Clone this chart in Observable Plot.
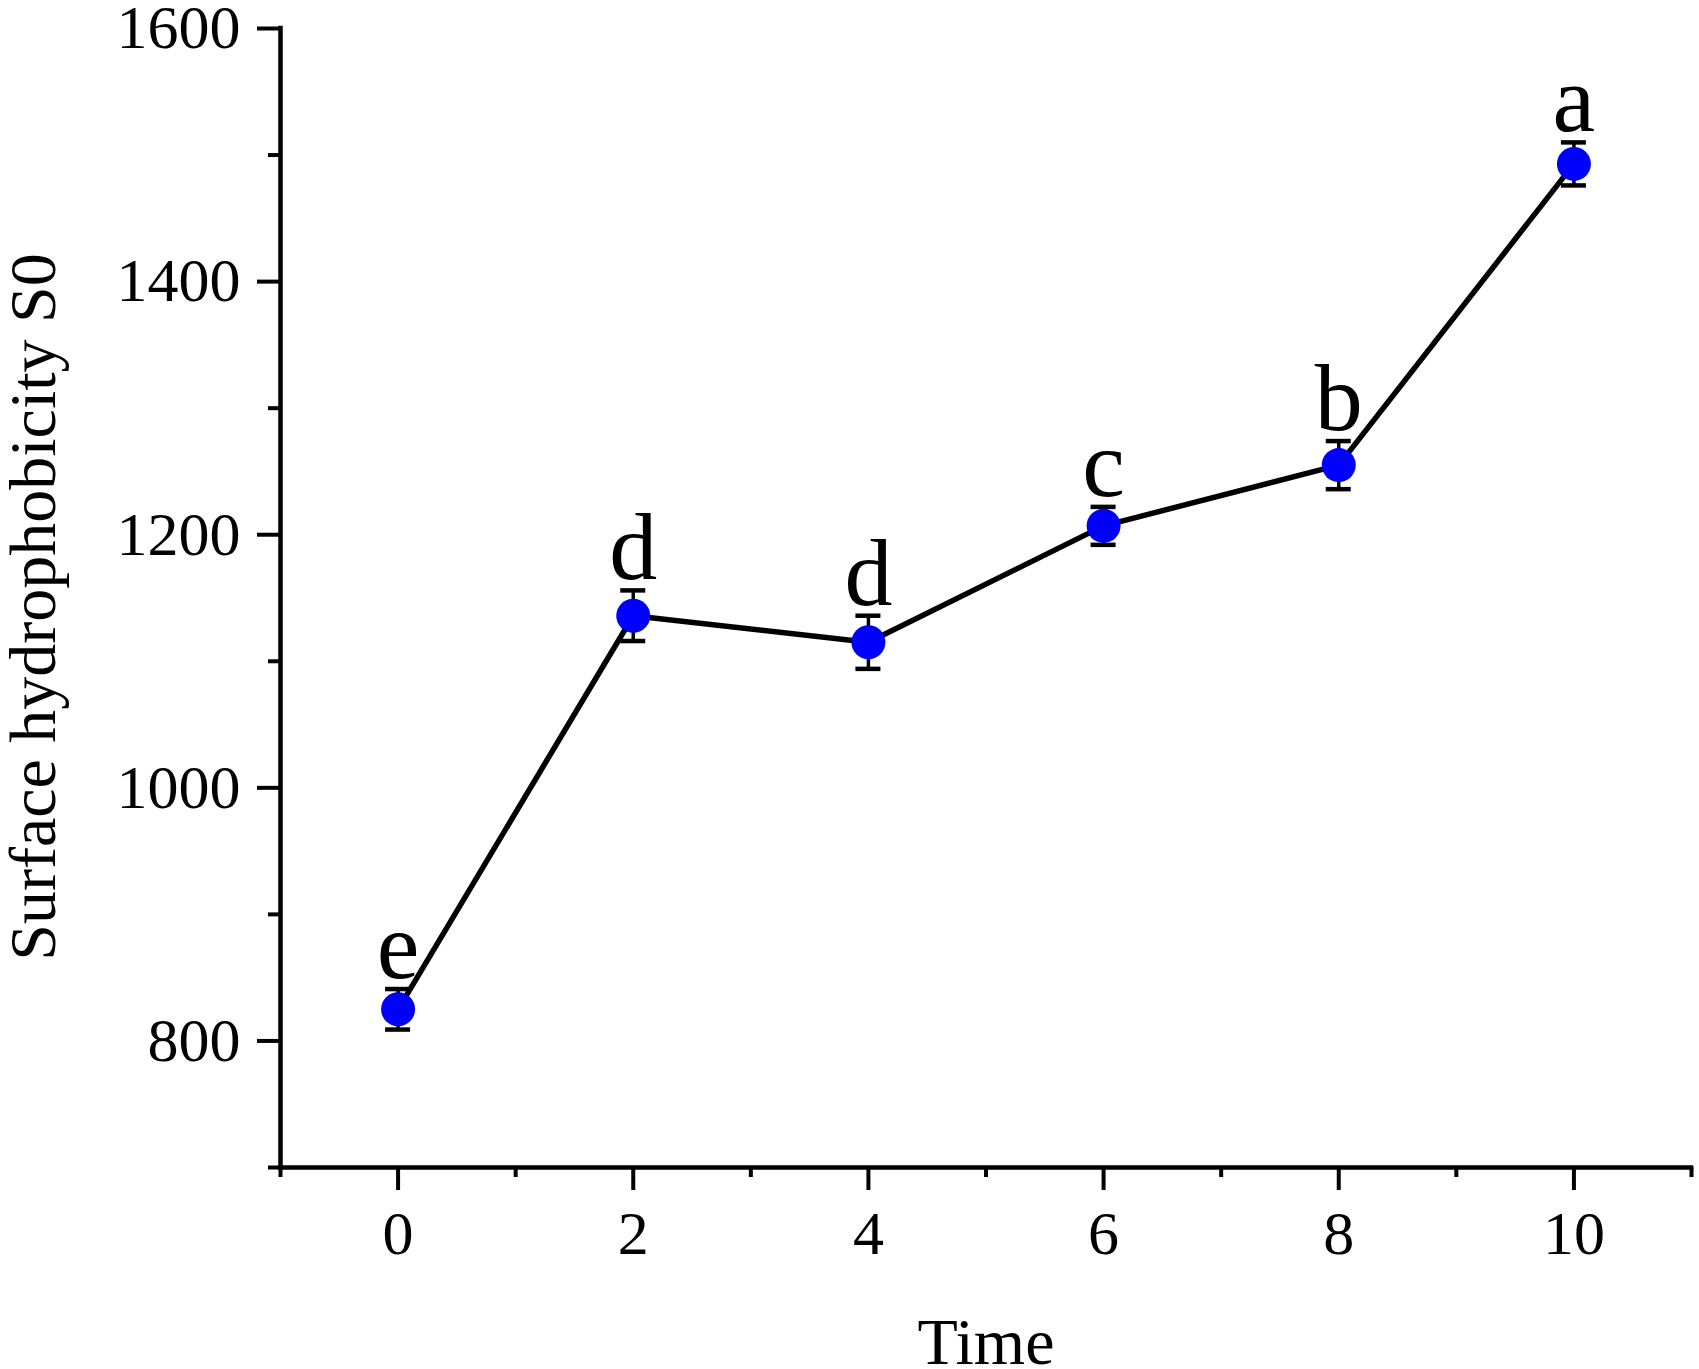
<!DOCTYPE html>
<html><head><meta charset="utf-8">
<script src="https://cdn.jsdelivr.net/npm/d3@7"></script>
<script src="https://cdn.jsdelivr.net/npm/@observablehq/plot@0.6"></script>
<style>html,body{margin:0;padding:0;background:#fff;overflow:hidden}</style>
</head><body><div id="chart"></div>
<script>
const times = [0, 2, 4, 6, 8, 10];
const values = [825, 1136, 1115, 1207, 1255, 1493];
const errors = [16, 20, 21, 15, 19, 17];
const letters = ["e", "d", "d", "c", "b", "a"];
const xMajorTicks = [0, 2, 4, 6, 8, 10];
const xMinorTicks = [-1, 1, 3, 5, 7, 9, 11];
const yMajorTicks = [800, 1000, 1200, 1400, 1600];
const yMinorTicks = [700, 900, 1100, 1300, 1500];
const xLabel = "Time";
const yLabel = "Surface hydrophobicity S0";

const data = times.map((t, i) => ({
  t, v: values[i], lo: values[i] - errors[i], hi: values[i] + errors[i], letter: letters[i]
}));
const font = "'Liberation Serif', 'Times New Roman', serif";

const chart = Plot.plot({
  width: 1699, height: 1369,
  marginLeft: 280, marginRight: 8, marginTop: 28, marginBottom: 202,
  x: {domain: [-1, 11]},
  y: {domain: [700, 1600]},
  style: {fontFamily: font, fontSize: "62px", color: "black", background: "white", overflow: "visible"},
  marks: [
    Plot.axisX({ticks: xMinorTicks, tickSize: 10, strokeWidth: 4, tickFormat: () => "", label: null}),
    Plot.axisX({ticks: xMajorTicks, tickSize: 23, tickPadding: 19, strokeWidth: 4, fontSize: 62, tickFormat: d => String(d), label: null}),
    Plot.axisY({ticks: yMinorTicks, tickSize: 12, strokeWidth: 4, tickFormat: () => "", label: null}),
    Plot.axisY({ticks: yMajorTicks, tickSize: 23, tickPadding: 17, strokeWidth: 4, fontSize: 62, tickFormat: d => String(d), label: null}),
    Plot.ruleX([-1], {stroke: "black", strokeWidth: 4.5, strokeLinecap: "square"}),
    Plot.ruleY([700], {stroke: "black", strokeWidth: 4.5, strokeLinecap: "square"}),
    Plot.line(data, {x: "t", y: "v", stroke: "black", strokeWidth: 5.5}),
    Plot.ruleX(data, {x: "t", y1: "lo", y2: "hi", stroke: "black", strokeWidth: 3.5}),
    Plot.ruleY(data, {y: "lo", x1: "t", x2: "t", insetLeft: -12.5, insetRight: -12.5, stroke: "black", strokeWidth: 4.5}),
    Plot.ruleY(data, {y: "hi", x1: "t", x2: "t", insetLeft: -12.5, insetRight: -12.5, stroke: "black", strokeWidth: 4.5}),
    Plot.dot(data, {x: "t", y: "v", r: 17, fill: "#0000ff", stroke: null}),
    Plot.text(data, {x: "t", y: "hi", text: "letter", dy: -11, lineAnchor: "bottom", fontSize: 96, fill: "black"}),
    Plot.text([yLabel], {text: d => d, frameAnchor: "left", textAnchor: "middle", rotate: -90, dx: -226, dy: 9, lineAnchor: "bottom", fontSize: 66, fill: "black"}),
    Plot.text([xLabel], {text: d => d, frameAnchor: "bottom", textAnchor: "middle", dy: 196, lineAnchor: "bottom", fontSize: 66, fill: "black"})
  ]
});
document.getElementById("chart").appendChild(chart);
</script>
</body></html>
